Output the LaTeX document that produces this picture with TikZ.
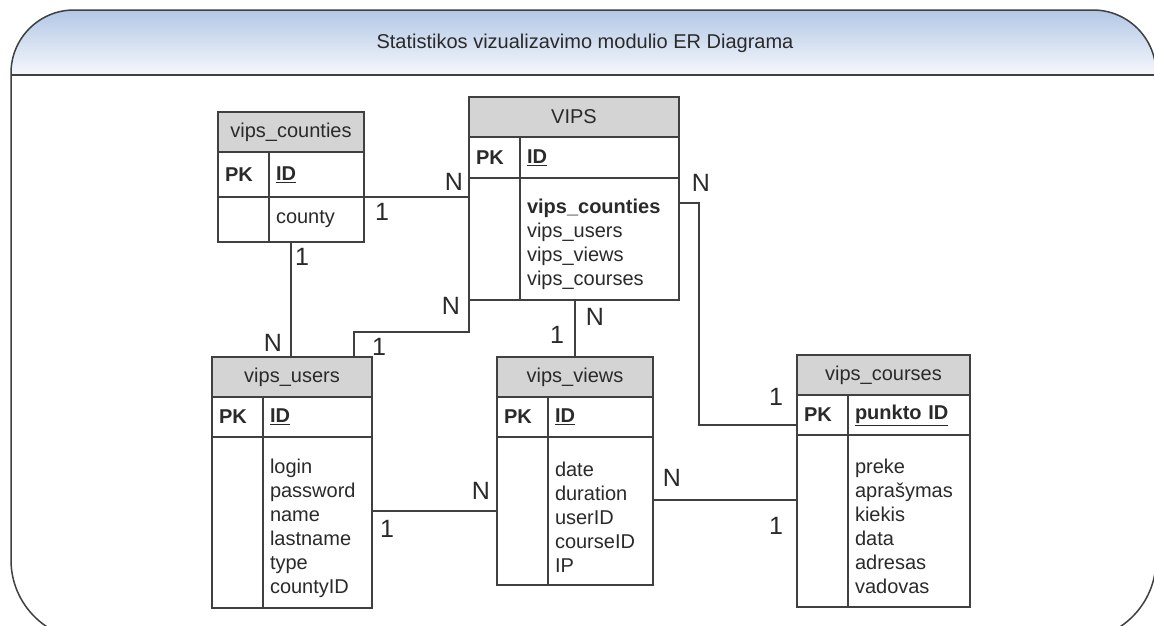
\documentclass[tikz,border=0pt]{standalone}
\usepackage{fontspec}
\setmainfont{Liberation Sans}
\usepackage{tikz}
\usepackage{xcolor}
\definecolor{maincolor}{HTML}{404040}
\definecolor{textcolor}{HTML}{2A2A2A}
\definecolor{bandtopcolor}{HTML}{B3C7E6}
\definecolor{bandbottomcolor}{HTML}{F5F8FC}
\colorlet{headfillcolor}{black!17}
\usetikzlibrary{
  positioning,
}
\tikzstyle{basiccell}=[draw=maincolor, line width=1.5pt, text=textcolor, inner sep=0pt, outer sep=0pt, font=\fontsize{20}{24}\selectfont]
\tikzstyle{headcell}=[basiccell, fill=headfillcolor, anchor=north west, minimum height=40pt]
\tikzstyle{pkcell}=[basiccell, minimum width=51pt, text width=37pt, inner xsep=7pt, align=left, font=\fontsize{20}{24}\selectfont\bfseries]
\tikzstyle{fieldcell}=[basiccell, inner xsep=7pt, align=left]
\tikzstyle{attrcell}=[fieldcell, execute at begin node={\rule{0pt}{26pt}}]
\tikzstyle{card}=[text=textcolor, inner sep=0pt, font=\fontsize{25}{25}\selectfont]
\tikzstyle{relation}=[draw=maincolor, line width=1.5pt]
\tikzstyle{frameline}=[draw=maincolor, line width=1.5pt]

\begin{document}
\begin{tikzpicture}[x=1pt, y=-1pt]
	\useasboundingbox (0,0) rectangle (1154,625);
	\clip (0,0) rectangle (1154,625);
	\fill[white] (0,0) rectangle (1154,625);
	\fill[top color=bandtopcolor, bottom color=bandbottomcolor] (11,75) -- (11,73) arc[start angle=180, end angle=90, radius=63pt] -- (1093,10) arc[start angle=90, end angle=0, radius=63pt] -- (1156,75) -- cycle;
	\draw[frameline] (11,73) arc[start angle=180, end angle=90, radius=63pt] -- (1093,10) arc[start angle=90, end angle=0, radius=63pt] -- (1156,560) arc[start angle=0, end angle=-90, radius=80pt] -- (91,640) arc[start angle=270, end angle=180, radius=80pt] -- cycle;
	\draw[frameline] (11,75) -- (1156,75);
	\node (title) [text=textcolor, font=\fontsize{20}{24}\selectfont] at (585,43) {Statistikos vizualizavimo modulio ER Diagrama};

	\node (countieshead) [headcell, minimum width=146pt] at (218,112) {vips\_counties};
	\node (countiespk) [pkcell, minimum height=45pt, below right=0pt of countieshead.south west] {PK};
	\node (countieskey) [fieldcell, text width=81pt, minimum height=45pt, right=0pt of countiespk] {\textbf{\underline{ID}}};
	\node (countiesblank) [pkcell, minimum height=45pt, below=0pt of countiespk] {};
	\node (countiesattr) [fieldcell, text width=81pt, minimum height=45pt, right=0pt of countiesblank] {county};

	\node (vipshead) [headcell, minimum width=210pt] at (469,97) {VIPS};
	\node (vipspk) [pkcell, minimum height=41pt, below right=0pt of vipshead.south west] {PK};
	\node (vipskey) [fieldcell, text width=145pt, minimum height=41pt, right=0pt of vipspk] {\textbf{\underline{ID}}};
	\node (vipsblank) [pkcell, minimum height=122pt, below=0pt of vipspk] {};
	\node (vipsattr) [attrcell, text width=145pt, minimum height=122pt, right=0pt of vipsblank] {\textbf{vips\_counties}\\vips\_users\\vips\_views\\vips\_courses};

	\node (usershead) [headcell, minimum width=160pt] at (212,357) {vips\_users};
	\node (userspk) [pkcell, minimum height=40pt, below right=0pt of usershead.south west] {PK};
	\node (userskey) [fieldcell, text width=95pt, minimum height=40pt, right=0pt of userspk] {\textbf{\underline{ID}}};
	\node (usersblank) [pkcell, minimum height=171pt, below=0pt of userspk] {};
	\node (usersattr) [attrcell, text width=95pt, minimum height=171pt, right=0pt of usersblank] {login\\password\\name\\lastname\\type\\countyID};

	\node (viewshead) [headcell, minimum width=156pt] at (497,357) {vips\_views};
	\node (viewspk) [pkcell, minimum height=40pt, below right=0pt of viewshead.south west] {PK};
	\node (viewskey) [fieldcell, text width=91pt, minimum height=40pt, right=0pt of viewspk] {\textbf{\underline{ID}}};
	\node (viewsblank) [pkcell, minimum height=148pt, below=0pt of viewspk] {};
	\node (viewsattr) [attrcell, text width=91pt, minimum height=148pt, right=0pt of viewsblank] {date\\duration\\userID\\courseID\\IP};

	\node (courseshead) [headcell, minimum width=173pt] at (797,355) {vips\_courses};
	\node (coursespk) [pkcell, minimum height=40pt, below right=0pt of courseshead.south west] {PK};
	\node (courseskey) [fieldcell, text width=108pt, minimum height=40pt, right=0pt of coursespk] {\textbf{\underline{punkto ID}}};
	\node (coursesblank) [pkcell, minimum height=172pt, below=0pt of coursespk] {};
	\node (coursesattr) [attrcell, text width=108pt, minimum height=172pt, right=0pt of coursesblank] {preke\\aprašymas\\kiekis\\data\\adresas\\vadovas};

	\draw [relation] (countieskey.south east) -- (countieskey.south east -| vipsblank.west);
	\draw [relation] (countieshead |- countiesattr.south) -- (countieshead |- usershead.north);
	\draw [relation] ([xshift=-18pt]usershead.north east) |- ([yshift=-32pt]vipsblank.south west) -- (vipsblank.south west);
	\draw [relation] (vipsattr.south -| viewshead.north) -- (viewshead.north);
	\draw [relation] ([yshift=-25pt]vipsattr.north east) -- ++(20,0) |- ([yshift=-10pt]coursespk.west);
	\draw [relation] (usersattr.east |- viewsblank.west) -- (viewsblank.west);
	\draw [relation] ([yshift=11pt]viewsattr.east) -- ([yshift=11pt]viewsattr.east -| coursesblank.west);

	\path (countieskey.south east) + (18,15) node (cardcountiesone) [card] {1};
	\path (vipsblank.north west) + (-15,4) node (cardvipsleft) [card] {N};
	\path (countiesattr.south west) + (33,15) node (cardcountiesdown) [card] {1};
	\path (usershead.north west) + (61,-14) node (cardusersup) [card] {N};
	\path (usershead.north east) + (7,-10) node (cardusersvips) [card] {1};
	\path (vipsblank.south west) + (-18,6) node (cardvipsbottom) [card] {N};
	\path (viewshead.north) + (-18,-22) node (cardviewsup) [card] {1};
	\path (viewshead.north) + (20,-40) node (cardvipsviews) [card] {N};
	\path (vipsattr.north east) + (22,5) node (cardvipsright) [card] {N};
	\path (coursespk.north west) + (-21,2) node (cardcoursesup) [card] {1};
	\path (usersattr.east) + (15,6) node (cardusersright) [card] {1};
	\path (viewsblank.west) + (-16,-20) node (cardviewsleft) [card] {N};
	\path (viewsattr.east) + (19,-33) node (cardviewsright) [card] {N};
	\path (coursesblank.west) + (-21,5) node (cardcoursesleft) [card] {1};
\end{tikzpicture}
\end{document}
